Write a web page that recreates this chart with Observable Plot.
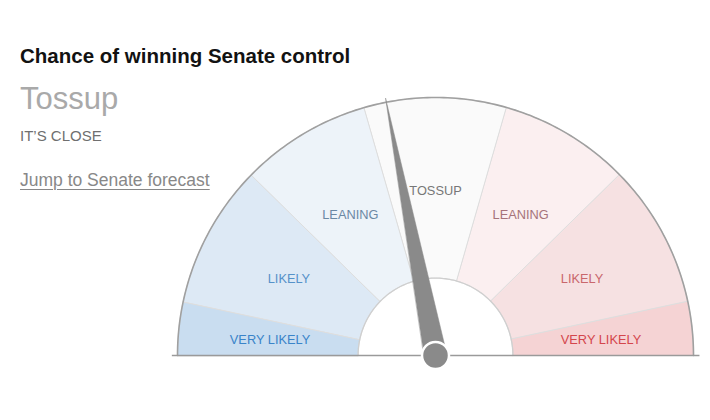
<!DOCTYPE html>
<html>
<head>
<meta charset="utf-8">
<script src="https://cdn.jsdelivr.net/npm/d3@7"></script>
<script src="https://cdn.jsdelivr.net/npm/@observablehq/plot@0.6"></script>
<style>
  html, body { margin: 0; padding: 0; background: #fff; }
  #wrap { position: relative; width: 710px; height: 420px; font-family: "Liberation Sans", Arial, sans-serif; }
  #wrap svg { position: absolute; left: 0; top: 0; }
  .t { position: absolute; left: 20px; line-height: 1; white-space: nowrap; }
  #title { top: 46px; font-size: 20.5px; font-weight: bold; color: #121212; }
  #status { top: 83px; font-size: 31px; color: #a9a9a9; }
  #sub { top: 127.5px; font-size: 15px; color: #6f6f6f; }
  #link { top: 172px; font-size: 17.5px; color: #888; text-decoration: underline; text-underline-offset: 3px; text-decoration-thickness: 1px; }
</style>
</head>
<body>
<div id="wrap">
  <div class="t" id="title">Chance of winning Senate control</div>
  <div class="t" id="status">Tossup</div>
  <div class="t" id="sub">IT’S CLOSE</div>
  <div class="t" id="link">Jump to Senate forecast</div>
</div>
<script>
// ---- data ----
const categories = ["VERY LIKELY", "LIKELY", "LEANING", "TOSSUP", "LEANING", "LIKELY", "VERY LIKELY"];
const boundaries = [0, 0.067, 0.247, 0.411, 0.589, 0.753, 0.933, 1];
const sectorFills = ["#c9ddf0", "#dde9f5", "#edf3f9", "#fafafa", "#fbeff0", "#f6e1e2", "#f5d3d4"];
const labelColors = ["#3a84c9", "#5692c9", "#6b88a4", "#777777", "#a6737a", "#c9676c", "#d4464c"];
const needleValue = 0.439;

// ---- geometry helpers ----
const innerR = 0.3;
const angle = d3.scaleLinear().domain([0, 1]).range([Math.PI, 0]);
const pt = (v, r) => ({x: r * Math.cos(angle(v)), y: r * Math.sin(angle(v))});
const arcPts = (v0, v1, r, n = 60) => d3.range(n + 1).map(k => pt(v0 + (v1 - v0) * k / n, r));

const sectorPts = categories.flatMap((c, i) => {
  const a = boundaries[i], b = boundaries[i + 1];
  return [...arcPts(a, b, 1), ...arcPts(b, a, innerR)].map(p => ({...p, id: i, fill: sectorFills[i]}));
});
const outerArc = arcPts(0, 1, 1, 200);
const innerArc = arcPts(0, 1, innerR, 120);

const labels = categories.map((c, i) => {
  const mid = (boundaries[i] + boundaries[i + 1]) / 2;
  const r = 0.645;
  return {...pt(mid, r), text: c, fill: labelColors[i]};
});

// needle as a tapered wedge
const th = angle(needleValue), hw = 0.044, len = 1.015;
const needle = [
  {x: len * Math.cos(th), y: len * Math.sin(th)},
  {x: hw * Math.cos(th - Math.PI / 2), y: hw * Math.sin(th - Math.PI / 2)},
  {x: hw * Math.cos(th + Math.PI / 2), y: hw * Math.sin(th + Math.PI / 2)}
];

const chart = Plot.plot({
  width: 710,
  height: 420,
  marginLeft: 177,
  marginRight: 17,
  marginTop: 97,
  marginBottom: 65,
  x: {domain: [-1, 1], axis: null},
  y: {domain: [0, 1], axis: null},
  color: {type: "identity"},
  style: {fontFamily: "Liberation Sans, Arial, sans-serif", background: "transparent"},
  marks: [
    Plot.line(sectorPts, {x: "x", y: "y", z: "id", fill: "fill", stroke: "#dedede", strokeWidth: 1, curve: "linear-closed"}),
    Plot.line(innerArc, {x: "x", y: "y", stroke: "#cfcfcf", strokeWidth: 1.3}),
    Plot.line(outerArc, {x: "x", y: "y", stroke: "#a0a0a0", strokeWidth: 1.6}),
    Plot.ruleY([0], {x1: -1.02, x2: 1.025, stroke: "#9a9a9a", strokeWidth: 1.3}),
    Plot.text(labels, {x: "x", y: "y", text: "text", fill: "fill", fontSize: 12.8, dy: 2}),
    Plot.line(needle, {x: "x", y: "y", fill: "#8a8a8a", stroke: "#8a8a8a", strokeWidth: 0.5, curve: "linear-closed"}),
    Plot.dot([{x: 0, y: 0}], {x: "x", y: "y", r: 13.5, fill: "#8a8a8a", stroke: "#fff", strokeWidth: 2.5})
  ]
});
document.getElementById("wrap").prepend(chart);
</script>
</body>
</html>
